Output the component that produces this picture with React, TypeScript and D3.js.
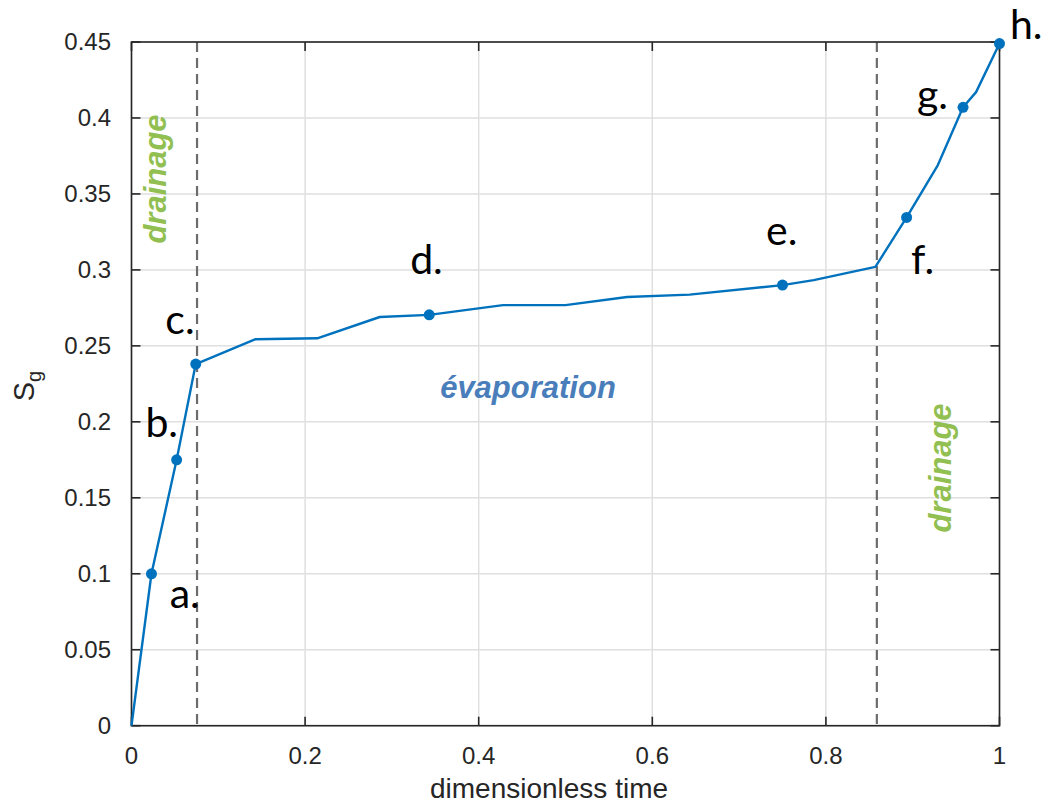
import React from "react";
import * as d3 from "d3";

const timeValues = [0, 0.023, 0.052, 0.074, 0.143, 0.214, 0.286, 0.343, 0.428, 0.5, 0.571, 0.643, 0.75, 0.786, 0.857, 0.893, 0.929, 0.958, 0.973, 1.0];
const sgValues = [0, 0.1, 0.175, 0.238, 0.2544, 0.255, 0.269, 0.2704, 0.2768, 0.2768, 0.2822, 0.2837, 0.29, 0.2933, 0.302, 0.3345, 0.369, 0.407, 0.417, 0.449];

const markerTimes = [0.023, 0.052, 0.074, 0.343, 0.75, 0.893, 0.958, 1.0];
const markerSg = [0.1, 0.175, 0.238, 0.2704, 0.29, 0.3345, 0.407, 0.449];
const markerLabels = ["a.", "b.", "c.", "d.", "e.", "f.", "g.", "h."];
// label anchor in data units (left x, baseline y)
const labelTimes = [0.044, 0.016, 0.039, 0.321, 0.731, 0.898, 0.905, 1.012];
const labelSg = [0.0775, 0.19, 0.258, 0.297, 0.3165, 0.297, 0.406, 0.452];

const phaseBoundaries = [0.0755, 0.8587];

const xTicks = [0, 0.2, 0.4, 0.6, 0.8, 1];
const yTicks = [0, 0.05, 0.1, 0.15, 0.2, 0.25, 0.3, 0.35, 0.4, 0.45];

const M = { left: 131.5, right: 999.5, top: 42, bottom: 725.7 };

export default function App() {
  const x = d3.scaleLinear().domain([0, 1]).range([M.left, M.right]);
  const y = d3.scaleLinear().domain([0, 0.45]).range([M.bottom, M.top]);
  const pts: [number, number][] = timeValues.map((t, i) => [t, sgValues[i]]);
  const line = d3.line<[number, number]>().x((d) => x(d[0])).y((d) => y(d[1]));
  const axisColor = "#262626";
  const tickFont = "'Liberation Sans', Arial, sans-serif";
  const tickLen = 9;

  return (
    <svg width={1046} height={805} style={{ position: "absolute", left: 0, top: 0, background: "#fff" }}>
      <rect x={0} y={0} width={1046} height={805} fill="#fff" />
      {/* grid */}
      {xTicks.map((t) => (
        <line key={"gx" + t} x1={x(t)} x2={x(t)} y1={M.top} y2={M.bottom} stroke="#dfdfdf" strokeWidth={1.5} />
      ))}
      {yTicks.map((t) => (
        <line key={"gy" + t} x1={M.left} x2={M.right} y1={y(t)} y2={y(t)} stroke="#dfdfdf" strokeWidth={1.5} />
      ))}
      {/* dashed phase boundaries */}
      {phaseBoundaries.map((t) => (
        <line key={"pb" + t} x1={x(t)} x2={x(t)} y1={M.top} y2={M.bottom} stroke="#6c6c6c" strokeWidth={2.2} strokeDasharray="10,6" />
      ))}
      {/* axes box */}
      <rect x={M.left} y={M.top} width={M.right - M.left} height={M.bottom - M.top} fill="none" stroke={axisColor} strokeWidth={1.6} />
      {xTicks.map((t) => (
        <g key={"tx" + t}>
          <line x1={x(t)} x2={x(t)} y1={M.bottom} y2={M.bottom - tickLen} stroke={axisColor} strokeWidth={1.6} />
          <line x1={x(t)} x2={x(t)} y1={M.top} y2={M.top + tickLen} stroke={axisColor} strokeWidth={1.6} />
          <text x={x(t)} y={764} textAnchor="middle" fontFamily={tickFont} fontSize={24} fill={axisColor}>
            {String(t)}
          </text>
        </g>
      ))}
      {yTicks.map((t) => (
        <g key={"ty" + t}>
          <line x1={M.left} x2={M.left + tickLen} y1={y(t)} y2={y(t)} stroke={axisColor} strokeWidth={1.6} />
          <line x1={M.right} x2={M.right - tickLen} y1={y(t)} y2={y(t)} stroke={axisColor} strokeWidth={1.6} />
          <text x={111} y={y(t) + 8} textAnchor="end" fontFamily={tickFont} fontSize={24} fill={axisColor}>
            {String(t)}
          </text>
        </g>
      ))}
      {/* axis titles */}
      <text x={549} y={798} textAnchor="middle" fontFamily={tickFont} fontSize={28} fill={axisColor}>
        dimensionless time
      </text>
      <text transform="translate(34,386) rotate(-90)" textAnchor="middle" fontFamily={tickFont} fontSize={29} fill={axisColor}>
        S<tspan fontSize={20} dy={7}>g</tspan>
      </text>
      {/* phase labels */}
      <text transform={`translate(${166},${179}) rotate(-90)`} textAnchor="middle" fontFamily={tickFont} fontSize={31} fontWeight="bold" fontStyle="italic" fill="#92bf52">
        drainage
      </text>
      <text transform={`translate(${951},${468}) rotate(-90)`} textAnchor="middle" fontFamily={tickFont} fontSize={31} fontWeight="bold" fontStyle="italic" fill="#92bf52">
        drainage
      </text>
      <text x={528} y={398} textAnchor="middle" fontFamily={tickFont} fontSize={31} fontWeight="bold" fontStyle="italic" fill="#4a7ebb">
        évaporation
      </text>
      {/* data line */}
      <path d={line(pts) || ""} fill="none" stroke="#0072BD" strokeWidth={2.4} strokeLinejoin="round" />
      {markerTimes.map((t, i) => (
        <circle key={"m" + i} cx={x(t)} cy={y(markerSg[i])} r={5.5} fill="#0072BD" />
      ))}
      {markerLabels.map((l, i) => (
        <text key={"l" + i} x={x(labelTimes[i])} y={y(labelSg[i])} fontFamily="Lato, 'Open Sans', sans-serif" fontSize={41} fill="#000">
          {l}
        </text>
      ))}
    </svg>
  );
}
